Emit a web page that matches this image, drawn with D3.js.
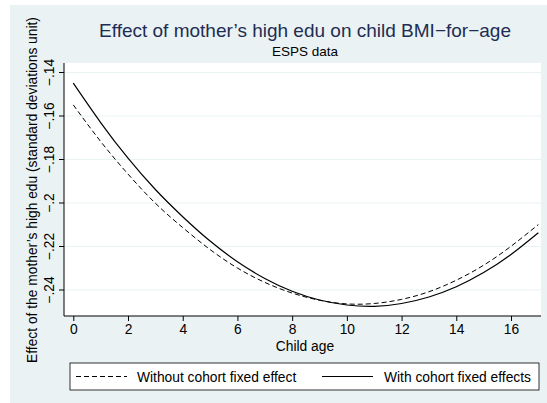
<!DOCTYPE html>
<html><head><meta charset="utf-8">
<script src="https://cdn.jsdelivr.net/npm/d3@7"></script>
<style>body{margin:0;background:#fff}text{font-family:"Liberation Sans",Arial,sans-serif}</style>
</head><body><svg id="c" width="547" height="403"></svg>
<script>
const ages = [0,1,2,3,4,5,6,7,8,9,10,11,12,13,14,15,16,17];
const withoutFE = [-.1549,-.1717,-.1867,-.2001,-.2113,-.2214,-.2299,-.2365,-.2414,-.2447,-.2464,-.2462,-.2443,-.2408,-.2355,-.2286,-.2199,-.2099];
const withFE = [-.1449,-.1630,-.1794,-.1938,-.2063,-.2175,-.2270,-.2347,-.2406,-.2446,-.2469,-.2475,-.2462,-.2432,-.2385,-.2320,-.2237,-.2137];
const xTicks = [0,2,4,6,8,10,12,14,16];
const yTicks = [-.14,-.16,-.18,-.2,-.22,-.24];
const yTickLabels = ["\u2212.14","\u2212.16","\u2212.18","\u2212.2","\u2212.22","\u2212.24"];

const svg = d3.select("#c");
const L=64,R=541,T=63,B=316;
const FS=13.8;
svg.append("rect").attr("x",10).attr("y",5).attr("width",537).attr("height",398).attr("fill","#eaf2f3");
svg.append("rect").attr("x",L).attr("y",T).attr("width",R-L).attr("height",B-T).attr("fill","#fff");
const x = d3.scaleLinear().domain([0,16]).range([73.3,511]);
const y = d3.scaleLinear().domain([-.14,-.24]).range([72.5,290]);
yTicks.forEach(t=>svg.append("line").attr("x1",L).attr("x2",R).attr("y1",y(t)).attr("y2",y(t)).attr("stroke","#eaf2f3").attr("stroke-width",1.2));
const xa = svg.append("g").attr("transform",`translate(0,${B})`).call(d3.axisBottom(x).tickValues(xTicks).tickSize(5).tickPadding(3));
xa.select(".domain").attr("d",`M${L},0H${R}`);
xa.selectAll("text").attr("font-size",FS).attr("fill","#000").style("font-family","Liberation Sans");
const ya = svg.append("g").attr("transform",`translate(${L},0)`).call(d3.axisLeft(y).tickValues(yTicks).tickFormat((d,i)=>yTickLabels[i]).tickSize(5));
ya.select(".domain").attr("d",`M0,${T}V${B}`);
ya.selectAll(".tick").attr("transform",null);
ya.selectAll(".tick line").attr("y1",d=>y(d)).attr("y2",d=>y(d));
ya.selectAll(".tick text").attr("font-size",FS).attr("fill","#000").attr("text-anchor","middle").attr("dy",0).style("font-family","Liberation Sans")
  .attr("transform",d=>`rotate(-90,-10,${y(d)})`).attr("x",-10).attr("y",d=>y(d));
const line = d3.line().x((d,i)=>x(ages[i])).y(d=>y(d)).curve(d3.curveNatural);
svg.append("path").attr("d",line(withoutFE)).attr("fill","none").attr("stroke","#000").attr("stroke-width",1).attr("stroke-dasharray","5,3");
svg.append("path").attr("d",line(withFE)).attr("fill","none").attr("stroke","#000").attr("stroke-width",1.2);
svg.append("text").attr("x",305).attr("y",37).attr("text-anchor","middle").attr("font-size",19).attr("fill","#1e2d53").text("Effect of mother\u2019s high edu on child BMI\u2212for\u2212age");
svg.append("text").attr("x",305).attr("y",56).attr("text-anchor","middle").attr("font-size",13.5).attr("fill","#000").text("ESPS data");
svg.append("text").attr("x",305).attr("y",351).attr("text-anchor","middle").attr("font-size",FS).text("Child age");
svg.append("text").attr("transform","translate(37,190) rotate(-90)").attr("text-anchor","middle").attr("font-size",FS).text("Effect of the mother\u2019s high edu (standard deviations unit)");
const lg = svg.append("g");
lg.append("rect").attr("x",70).attr("y",363).attr("width",469).attr("height",27).attr("fill","#fff").attr("stroke","#000").attr("stroke-width",0.8);
lg.append("line").attr("x1",76).attr("x2",127).attr("y1",376.5).attr("y2",376.5).attr("stroke","#000").attr("stroke-dasharray","5,3");
lg.append("text").attr("x",137).attr("y",381.5).attr("font-size",FS).text("Without cohort fixed effect");
lg.append("line").attr("x1",322).attr("x2",373).attr("y1",376.5).attr("y2",376.5).attr("stroke","#000").attr("stroke-width",1.2);
lg.append("text").attr("x",384).attr("y",381.5).attr("font-size",FS).text("With cohort fixed effects");
</script></body></html>
